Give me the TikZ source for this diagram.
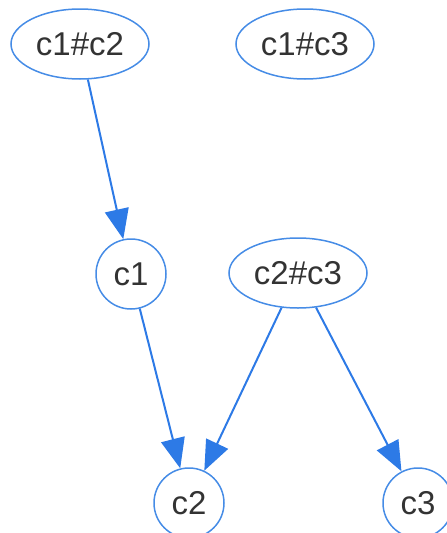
\documentclass[tikz,border=0pt]{standalone}
\usepackage{fontspec}
\setmainfont{Liberation Sans}
\usetikzlibrary{arrows.meta,shapes.geometric}
\definecolor{edgeblue}{RGB}{45,122,230}
\definecolor{nodeblue}{RGB}{70,140,230}
\definecolor{txt}{RGB}{51,51,51}
\tikzset{
  base/.style={draw=nodeblue, line width=1.5pt, text=txt, inner sep=0pt,
    font=\fontsize{33}{33}\selectfont},
  ell/.style={base, ellipse, minimum width=138pt, minimum height=70pt},
  circ/.style={base, circle, minimum size=70pt},
  edge/.style={draw=edgeblue, line width=2pt,
    -{Triangle[length=30pt, width=24pt]}, shorten >=0pt},
}
\begin{document}
\begin{tikzpicture}[x=1pt, y=-1pt]
\useasboundingbox (0,0) rectangle (447,533);
\node[ell] (c1c2) at (80,44) {c1\#c2};
\node[ell] (c1c3) at (305,44) {c1\#c3};
\node[circ] (c1) at (131,274) {c1};
\node[ell] (c2c3) at (298,273) {c2\#c3};
\node[circ] (c2) at (189,503) {c2};
\node[circ] (c3) at (418,503) {c3};
\draw[edge] (c1c2) -- (c1);
\draw[edge] (c1) -- (c2);
\draw[edge] (c2c3) -- (c2);
\draw[edge] (c2c3) -- (c3);
\end{tikzpicture}
\end{document}
